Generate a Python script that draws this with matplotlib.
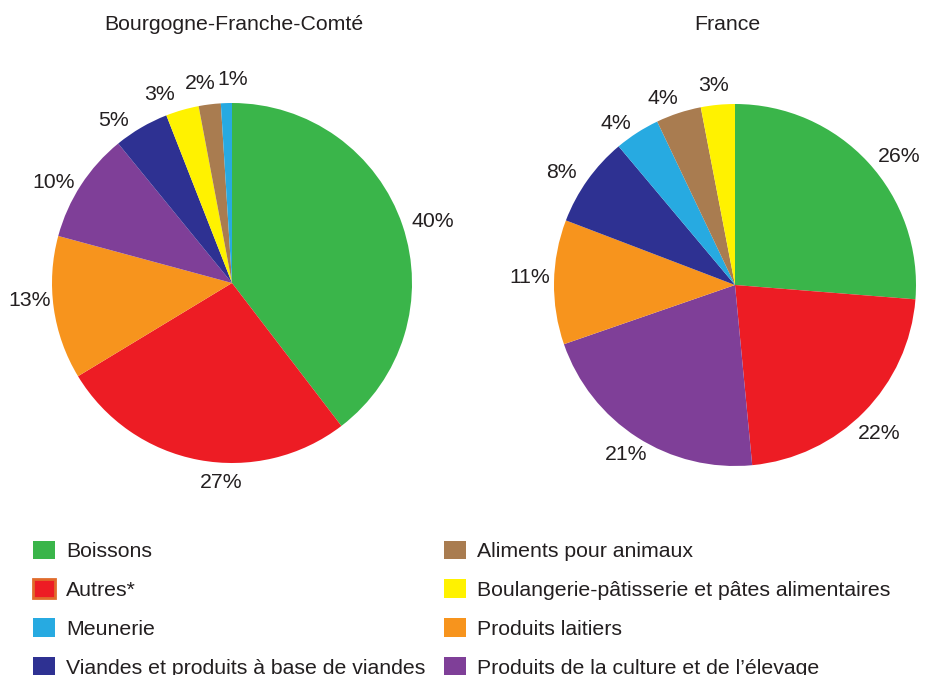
import matplotlib
matplotlib.use("Agg")
import numpy as np
import matplotlib.pyplot as plt
from matplotlib.patches import Patch

plt.rcParams['font.family'] = ['Liberation Sans', 'DejaVu Sans']

categories = ["Boissons", "Autres*", "Meunerie", "Viandes et produits à base de viandes",
              "Aliments pour animaux", "Boulangerie-pâtisserie et pâtes alimentaires",
              "Produits laitiers", "Produits de la culture et de l\u2019élevage"]
colors = {"Boissons": "#3AB54A", "Autres*": "#ED1C24", "Meunerie": "#27AAE1",
          "Viandes et produits à base de viandes": "#2E3192",
          "Aliments pour animaux": "#A97C50",
          "Boulangerie-pâtisserie et pâtes alimentaires": "#FFF200",
          "Produits laitiers": "#F7941D",
          "Produits de la culture et de l\u2019élevage": "#7F3F98"}

bfc_order = ["Boissons", "Autres*", "Produits laitiers", "Produits de la culture et de l\u2019élevage",
             "Viandes et produits à base de viandes",
             "Boulangerie-pâtisserie et pâtes alimentaires", "Aliments pour animaux", "Meunerie"]
bfc_values = [40, 27, 13, 10, 5, 3, 2, 1]

fr_order = ["Boissons", "Autres*", "Produits de la culture et de l\u2019élevage", "Produits laitiers",
            "Viandes et produits à base de viandes", "Meunerie", "Aliments pour animaux",
            "Boulangerie-pâtisserie et pâtes alimentaires"]
fr_values = [26, 22, 21, 11, 8, 4, 4, 3]

titles = ["Bourgogne-Franche-Comté", "France"]

# label placement style: clockwise angular nudge (deg) and radial distance
bfc_nudge = [1.8, -7.6, 3.2, -3.6, -5.8, -5.0, -2.0, 2.1]
bfc_dist = [1.167, 1.11, 1.127, 1.14, 1.12, 1.12, 1.125, 1.13]
fr_nudge = [4.7, 1.3, 0.0, 1.3, -2.5, -3.6, -2.8, -0.8]
fr_dist = [1.15, 1.14, 1.116, 1.133, 1.146, 1.11, 1.106, 1.11]

txt = "#231F20"
FS = 15.3

W, H = 936, 675
fig = plt.figure(figsize=(W / 100, H / 100), dpi=100)

def add_pie(cx, cy, r, order, values, nudge, dist, title, title_x):
    ax = fig.add_axes([(cx - r) / W, (H - cy - r) / H, 2 * r / W, 2 * r / H])
    wedges, _ = ax.pie(values, colors=[colors[c] for c in order],
                       startangle=90, counterclock=False,
                       wedgeprops=dict(linewidth=0))
    for w, v, nd, d in zip(wedges, values, nudge, dist):
        mid = np.deg2rad((w.theta1 + w.theta2) / 2 - nd)
        ax.text(d * np.cos(mid), d * np.sin(mid), f"{v}%", ha="center", va="center",
                fontsize=FS, color=txt)
    ax.set_xlim(-1, 1)
    ax.set_ylim(-1, 1)
    ax.set_aspect("equal")
    ax.axis("off")
    fig.text(title_x / W, 1 - 24 / H, title, ha="center", va="center", fontsize=FS, color=txt)
    return ax

add_pie(232, 283, 180, bfc_order, bfc_values, bfc_nudge, bfc_dist, titles[0], 234)
add_pie(735, 285, 181, fr_order, fr_values, fr_nudge, fr_dist, titles[1], 727)

def make_handles(names):
    hs = []
    for n in names:
        if n == "Autres*":
            hs.append(Patch(facecolor=colors[n], edgecolor="#E06B2B", linewidth=2))
        else:
            hs.append(Patch(facecolor=colors[n], edgecolor="none"))
    return hs

col1 = categories[:4]
col2 = categories[4:]
common = dict(loc="upper left", frameon=False, fontsize=FS, handlelength=1.04, handleheight=0.95,
              handletextpad=0.52, labelspacing=0.87, borderpad=0, borderaxespad=0)
l1 = fig.legend(make_handles(col1), col1, bbox_to_anchor=(33 / W, 1 - 540.5 / H), **common)
l2 = fig.legend(make_handles(col2), col2, bbox_to_anchor=(444 / W, 1 - 540.5 / H), **common)
for lg in (l1, l2):
    for t in lg.get_texts():
        t.set_color(txt)

fig.savefig("out.png", dpi=100)
